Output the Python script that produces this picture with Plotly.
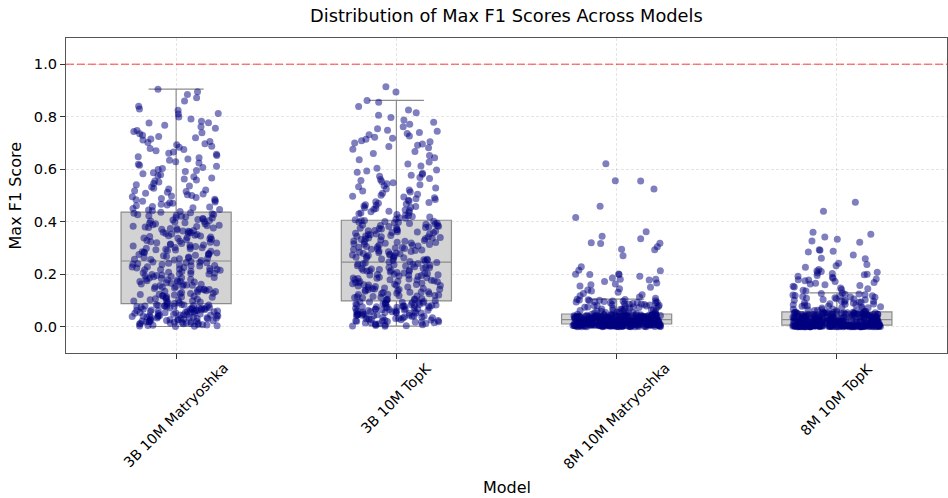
import numpy as np
import plotly.graph_objects as go

models = ["3B 10M Matryoshka", "3B 10M TopK", "8M 10M Matryoshka", "8M 10M TopK"]
y_ticks = [0.0, 0.2, 0.4, 0.6, 0.8, 1.0]
reference_line = 1.0

scores_3b_matryoshka = [
    0.003, 0.006, 0.008, 0.011, 0.012, 0.014, 0.017, 0.018, 0.021, 0.022,
    0.024, 0.026, 0.027, 0.029, 0.031, 0.032, 0.033, 0.035, 0.036, 0.038,
    0.039, 0.041, 0.042, 0.043, 0.045, 0.046, 0.048, 0.049, 0.051, 0.052,
    0.053, 0.054, 0.056, 0.057, 0.058, 0.059, 0.061, 0.062, 0.063, 0.064,
    0.066, 0.067, 0.068, 0.069, 0.071, 0.072, 0.073, 0.074, 0.075, 0.077,
    0.078, 0.079, 0.081, 0.082, 0.083, 0.084, 0.085, 0.086, 0.015, 0.019,
    0.005, 0.009, 0.013, 0.016, 0.023, 0.028, 0.034, 0.037, 0.044, 0.047,
    0.055, 0.060, 0.065, 0.070, 0.076, 0.080, 0.010, 0.020, 0.025, 0.030,
    0.040, 0.050, 0.001, 0.007, 0.004, 0.002, 0.035, 0.045, 0.058, 0.062,
    0.072, 0.078, 0.083, 0.012, 0.018, 0.027, 0.033, 0.041, 0.053, 0.067,
    0.089, 0.091, 0.094, 0.096, 0.098, 0.101, 0.103, 0.105, 0.108, 0.110,
    0.112, 0.114, 0.117, 0.119, 0.121, 0.123, 0.126, 0.128, 0.130, 0.132,
    0.134, 0.137, 0.139, 0.141, 0.143, 0.146, 0.148, 0.150, 0.152, 0.155,
    0.157, 0.159, 0.161, 0.163, 0.166, 0.168, 0.170, 0.172, 0.175, 0.177,
    0.179, 0.181, 0.184, 0.186, 0.188, 0.190, 0.193, 0.195, 0.197, 0.199,
    0.202, 0.204, 0.206, 0.208, 0.211, 0.213, 0.215, 0.217, 0.220, 0.222,
    0.224, 0.226, 0.229, 0.231, 0.233, 0.235, 0.238, 0.240, 0.242, 0.244,
    0.247, 0.249, 0.092, 0.107, 0.116, 0.124, 0.135, 0.144, 0.153, 0.162,
    0.171, 0.182, 0.191, 0.201, 0.210, 0.219, 0.228, 0.237, 0.246, 0.099,
    0.113, 0.127, 0.142, 0.158, 0.173, 0.187, 0.203, 0.218, 0.232, 0.245,
    0.252, 0.254, 0.257, 0.259, 0.261, 0.263, 0.266, 0.268, 0.270, 0.272,
    0.275, 0.277, 0.279, 0.281, 0.284, 0.286, 0.288, 0.290, 0.293, 0.295,
    0.297, 0.299, 0.302, 0.304, 0.306, 0.308, 0.311, 0.313, 0.315, 0.317,
    0.320, 0.322, 0.324, 0.326, 0.329, 0.331, 0.333, 0.335, 0.338, 0.340,
    0.342, 0.344, 0.347, 0.349, 0.351, 0.353, 0.356, 0.358, 0.360, 0.362,
    0.365, 0.367, 0.369, 0.371, 0.374, 0.376, 0.378, 0.380, 0.383, 0.385,
    0.387, 0.389, 0.392, 0.394, 0.396, 0.398, 0.401, 0.403, 0.405, 0.407,
    0.410, 0.412, 0.414, 0.416, 0.419, 0.421, 0.423, 0.425, 0.428, 0.430,
    0.432, 0.434, 0.436, 0.264, 0.283, 0.301, 0.319, 0.337, 0.355, 0.373,
    0.391, 0.409, 0.427, 0.256, 0.274, 0.292, 0.310, 0.346, 0.364, 0.382,
    0.439, 0.442, 0.445, 0.447, 0.450, 0.453, 0.456, 0.458, 0.461, 0.464,
    0.467, 0.470, 0.472, 0.475, 0.478, 0.481, 0.484, 0.486, 0.489, 0.492,
    0.495, 0.498, 0.500, 0.503, 0.506, 0.509, 0.512, 0.515, 0.518, 0.521,
    0.525, 0.528, 0.532, 0.536, 0.541, 0.546,
    0.551, 0.555, 0.559, 0.563, 0.567, 0.571, 0.575, 0.579, 0.583, 0.587,
    0.591, 0.595, 0.599, 0.603, 0.607, 0.611, 0.615, 0.619, 0.624, 0.629,
    0.634, 0.639, 0.644, 0.648,
    0.652, 0.657, 0.661, 0.666, 0.670, 0.675, 0.679, 0.684, 0.688, 0.693,
    0.697, 0.702, 0.706, 0.711, 0.715, 0.720, 0.725, 0.730, 0.735, 0.739,
    0.744, 0.748,
    0.756, 0.762, 0.768, 0.776, 0.777, 0.783, 0.791, 0.799, 0.810, 0.812,
    0.825, 0.830, 0.840, 0.860, 0.872, 0.885, 0.895, 0.905,
]

scores_3b_topk = [
    0.002, 0.005, 0.007, 0.009, 0.012, 0.014, 0.016, 0.018, 0.020, 0.022,
    0.024, 0.026, 0.028, 0.030, 0.031, 0.033, 0.035, 0.037, 0.039, 0.040,
    0.042, 0.044, 0.045, 0.047, 0.049, 0.050, 0.052, 0.054, 0.055, 0.057,
    0.058, 0.060, 0.062, 0.063, 0.065, 0.066, 0.068, 0.069, 0.071, 0.072,
    0.074, 0.075, 0.077, 0.078, 0.080, 0.081, 0.083, 0.084, 0.086, 0.087,
    0.089, 0.090, 0.092, 0.093, 0.095, 0.096, 0.004, 0.011, 0.017, 0.023,
    0.029, 0.036, 0.043, 0.048, 0.053, 0.059, 0.064, 0.070, 0.076, 0.082,
    0.088, 0.094, 0.003, 0.010, 0.015, 0.021, 0.027, 0.034, 0.041, 0.046,
    0.051, 0.056, 0.061, 0.067, 0.073, 0.079, 0.085, 0.091, 0.008, 0.019,
    0.025, 0.032, 0.038, 0.044, 0.052, 0.060, 0.068, 0.076, 0.084, 0.093,
    0.099, 0.101, 0.103, 0.105, 0.106, 0.108, 0.110, 0.112, 0.114, 0.115,
    0.117, 0.119, 0.121, 0.123, 0.124, 0.126, 0.128, 0.130, 0.132, 0.133,
    0.135, 0.137, 0.139, 0.141, 0.142, 0.144, 0.146, 0.148, 0.150, 0.151,
    0.153, 0.155, 0.157, 0.159, 0.160, 0.162, 0.164, 0.166, 0.168, 0.169,
    0.171, 0.173, 0.175, 0.177, 0.178, 0.180, 0.182, 0.184, 0.186, 0.187,
    0.189, 0.191, 0.193, 0.195, 0.196, 0.198, 0.200, 0.202, 0.204, 0.205,
    0.207, 0.209, 0.211, 0.213, 0.214, 0.216, 0.218, 0.220, 0.222, 0.223,
    0.225, 0.227, 0.229, 0.231, 0.232, 0.234, 0.236, 0.238, 0.240, 0.241,
    0.243, 0.245, 0.104, 0.118, 0.131, 0.145, 0.158, 0.172, 0.185, 0.199,
    0.212, 0.226, 0.239, 0.111, 0.127, 0.143, 0.161, 0.179, 0.197, 0.215,
    0.247, 0.249, 0.250, 0.252, 0.254, 0.255, 0.257, 0.258, 0.260, 0.262,
    0.263, 0.265, 0.266, 0.268, 0.270, 0.271, 0.273, 0.274, 0.276, 0.278,
    0.279, 0.281, 0.282, 0.284, 0.286, 0.287, 0.289, 0.290, 0.292, 0.294,
    0.295, 0.297, 0.298, 0.300, 0.302, 0.303, 0.305, 0.306, 0.308, 0.310,
    0.311, 0.313, 0.314, 0.316, 0.318, 0.319, 0.321, 0.322, 0.324, 0.326,
    0.327, 0.329, 0.330, 0.332, 0.334, 0.335, 0.337, 0.338, 0.340, 0.342,
    0.343, 0.345, 0.346, 0.348, 0.350, 0.351, 0.353, 0.354, 0.356, 0.358,
    0.359, 0.361, 0.362, 0.364, 0.366, 0.367, 0.369, 0.370, 0.372, 0.374,
    0.375, 0.377, 0.378, 0.380, 0.382, 0.383, 0.385, 0.386, 0.388, 0.390,
    0.391, 0.393, 0.394, 0.396, 0.398, 0.399, 0.401, 0.402, 0.404, 0.405,
    0.408, 0.410, 0.413, 0.415, 0.418, 0.420, 0.423, 0.425, 0.428, 0.430,
    0.433, 0.435, 0.438, 0.440, 0.443, 0.445, 0.448, 0.450, 0.453, 0.455,
    0.458, 0.460, 0.463, 0.465, 0.468, 0.470, 0.473, 0.476, 0.479, 0.482,
    0.485, 0.488, 0.491, 0.494, 0.497,
    0.501, 0.505, 0.509, 0.513, 0.517, 0.521, 0.525, 0.529, 0.533, 0.537,
    0.541, 0.545, 0.549, 0.553, 0.557, 0.561, 0.565, 0.569, 0.573, 0.577,
    0.581, 0.585, 0.589, 0.593, 0.597,
    0.604, 0.612, 0.620, 0.628, 0.636, 0.644, 0.652, 0.660, 0.668, 0.676,
    0.682, 0.687, 0.691, 0.696, 0.700, 0.705, 0.709, 0.714, 0.718, 0.722,
    0.727, 0.731, 0.736, 0.740, 0.745, 0.749, 0.754,
    0.762, 0.771, 0.779, 0.788, 0.797, 0.806, 0.815, 0.826, 0.839, 0.855,
    0.862, 0.894, 0.914,
]

scores_8m_matryoshka = [
    0.000, 0.000, 0.000, 0.000, 0.000, 0.000, 0.000, 0.000, 0.001, 0.001,
    0.001, 0.001, 0.001, 0.001, 0.002, 0.002, 0.002, 0.002, 0.002, 0.002,
    0.002, 0.003, 0.003, 0.003, 0.003, 0.003, 0.003, 0.003, 0.004, 0.004,
    0.004, 0.004, 0.004, 0.004, 0.004, 0.004, 0.005, 0.005, 0.005, 0.005,
    0.005, 0.005, 0.005, 0.005, 0.005, 0.006, 0.006, 0.006, 0.006, 0.006,
    0.006, 0.006, 0.006, 0.006, 0.006, 0.007, 0.007, 0.007, 0.007, 0.007,
    0.007, 0.007, 0.007, 0.007, 0.007, 0.008, 0.008, 0.008, 0.008, 0.008,
    0.008, 0.008, 0.008, 0.008, 0.008, 0.008, 0.009, 0.009, 0.009, 0.009,
    0.009, 0.009, 0.009, 0.009, 0.009, 0.009, 0.009, 0.009, 0.009, 0.009,
    0.001, 0.002, 0.003, 0.004, 0.005, 0.006, 0.007, 0.008, 0.009, 0.009,
    0.011, 0.011, 0.011, 0.011, 0.012, 0.012, 0.012, 0.012, 0.012, 0.012,
    0.013, 0.013, 0.013, 0.013, 0.013, 0.013, 0.014, 0.014, 0.014, 0.014,
    0.014, 0.014, 0.015, 0.015, 0.015, 0.015, 0.015, 0.015, 0.016, 0.016,
    0.016, 0.016, 0.016, 0.016, 0.017, 0.017, 0.017, 0.017, 0.017, 0.017,
    0.018, 0.018, 0.018, 0.018, 0.018, 0.018, 0.019, 0.019, 0.019, 0.019,
    0.019, 0.019, 0.020, 0.020, 0.020, 0.020, 0.020, 0.020, 0.021, 0.021,
    0.021, 0.021, 0.021, 0.021, 0.022, 0.022, 0.022, 0.022, 0.022, 0.022,
    0.023, 0.023, 0.023, 0.023, 0.023, 0.023, 0.024, 0.024, 0.024, 0.024,
    0.024, 0.024, 0.025, 0.025, 0.025, 0.025, 0.025, 0.025, 0.026, 0.026,
    0.026, 0.026, 0.026, 0.026, 0.026, 0.026, 0.026, 0.026, 0.026, 0.026,
    0.028, 0.028, 0.028, 0.028, 0.028, 0.029, 0.029, 0.029, 0.029, 0.029,
    0.030, 0.030, 0.030, 0.030, 0.030, 0.031, 0.031, 0.031, 0.031, 0.031,
    0.032, 0.032, 0.032, 0.032, 0.032, 0.033, 0.033, 0.033, 0.033, 0.033,
    0.034, 0.034, 0.034, 0.034, 0.034, 0.035, 0.035, 0.035, 0.035, 0.035,
    0.036, 0.036, 0.036, 0.036, 0.036, 0.037, 0.037, 0.037, 0.037, 0.037,
    0.038, 0.038, 0.038, 0.038, 0.038, 0.039, 0.039, 0.039, 0.039, 0.039,
    0.040, 0.040, 0.040, 0.040, 0.040, 0.041, 0.041, 0.041, 0.041, 0.041,
    0.042, 0.042, 0.042, 0.042, 0.042, 0.043, 0.043, 0.043, 0.043, 0.043,
    0.044, 0.044, 0.044, 0.044, 0.044, 0.045, 0.045, 0.045, 0.045, 0.045,
    0.046, 0.046, 0.046, 0.046, 0.047, 0.047, 0.047, 0.048, 0.048, 0.048,
    0.050, 0.051, 0.052, 0.053, 0.053, 0.054, 0.055, 0.056, 0.057, 0.058,
    0.059, 0.060, 0.061, 0.062, 0.063, 0.064, 0.065, 0.066, 0.067, 0.068,
    0.069, 0.070, 0.071, 0.072, 0.073, 0.074, 0.075, 0.076, 0.077, 0.078,
    0.079, 0.080, 0.081, 0.082, 0.083, 0.084, 0.085, 0.086, 0.087, 0.088,
    0.089, 0.090, 0.091, 0.092, 0.093, 0.094, 0.095, 0.096, 0.097, 0.098,
    0.099, 0.100, 0.101, 0.102, 0.103, 0.104, 0.105,
    0.109, 0.113, 0.118, 0.122, 0.127, 0.131, 0.136, 0.140, 0.145, 0.150,
    0.155, 0.160, 0.163, 0.167, 0.172, 0.178, 0.181, 0.186, 0.192, 0.199,
    0.199, 0.200, 0.201, 0.213, 0.215, 0.229, 0.270, 0.293, 0.295, 0.305,
    0.317, 0.318, 0.320, 0.335, 0.345, 0.362, 0.416, 0.459, 0.525, 0.555,
    0.556, 0.621, 0.181,
]

scores_8m_topk = [
    0.000, 0.000, 0.000, 0.000, 0.000, 0.000, 0.000, 0.000, 0.000, 0.000,
    0.000, 0.000, 0.000, 0.000, 0.000, 0.000, 0.000, 0.000, 0.000, 0.000,
    0.001, 0.001, 0.001, 0.001, 0.001, 0.001, 0.001, 0.001, 0.001, 0.001,
    0.001, 0.001, 0.001, 0.001, 0.001, 0.001, 0.002, 0.002, 0.002, 0.002,
    0.002, 0.002, 0.002, 0.002, 0.002, 0.002, 0.002, 0.002, 0.002, 0.002,
    0.002, 0.002, 0.003, 0.003, 0.003, 0.003, 0.003, 0.003, 0.003, 0.003,
    0.003, 0.003, 0.003, 0.003, 0.003, 0.003, 0.003, 0.003, 0.004, 0.004,
    0.004, 0.004, 0.004, 0.004, 0.004, 0.004, 0.004, 0.004, 0.004, 0.004,
    0.004, 0.004, 0.004, 0.004, 0.005, 0.005, 0.005, 0.005, 0.005, 0.005,
    0.005, 0.005, 0.005, 0.005, 0.005, 0.005, 0.005, 0.005, 0.005, 0.005,
    0.007, 0.007, 0.007, 0.007, 0.007, 0.008, 0.008, 0.008, 0.008, 0.008,
    0.009, 0.009, 0.009, 0.009, 0.009, 0.010, 0.010, 0.010, 0.010, 0.010,
    0.011, 0.011, 0.011, 0.011, 0.011, 0.012, 0.012, 0.012, 0.012, 0.012,
    0.013, 0.013, 0.013, 0.013, 0.013, 0.014, 0.014, 0.014, 0.014, 0.014,
    0.015, 0.015, 0.015, 0.015, 0.015, 0.016, 0.016, 0.016, 0.016, 0.016,
    0.017, 0.017, 0.017, 0.017, 0.017, 0.018, 0.018, 0.018, 0.018, 0.018,
    0.019, 0.019, 0.019, 0.019, 0.019, 0.020, 0.020, 0.020, 0.020, 0.020,
    0.021, 0.021, 0.021, 0.021, 0.021, 0.022, 0.022, 0.022, 0.022, 0.022,
    0.023, 0.023, 0.023, 0.023, 0.023, 0.024, 0.024, 0.024, 0.024, 0.024,
    0.025, 0.025, 0.025, 0.025, 0.025, 0.026, 0.026, 0.026, 0.026, 0.026,
    0.028, 0.028, 0.028, 0.028, 0.029, 0.029, 0.029, 0.030, 0.030, 0.030,
    0.030, 0.031, 0.031, 0.031, 0.032, 0.032, 0.032, 0.032, 0.033, 0.033,
    0.033, 0.034, 0.034, 0.034, 0.034, 0.035, 0.035, 0.035, 0.036, 0.036,
    0.036, 0.036, 0.037, 0.037, 0.037, 0.038, 0.038, 0.038, 0.038, 0.039,
    0.039, 0.039, 0.040, 0.040, 0.040, 0.040, 0.041, 0.041, 0.041, 0.042,
    0.042, 0.042, 0.042, 0.043, 0.043, 0.043, 0.044, 0.044, 0.044, 0.044,
    0.045, 0.045, 0.045, 0.046, 0.046, 0.046, 0.046, 0.047, 0.047, 0.047,
    0.048, 0.048, 0.048, 0.048, 0.049, 0.049, 0.049, 0.050, 0.050, 0.050,
    0.050, 0.051, 0.051, 0.051, 0.052, 0.052, 0.052, 0.052, 0.053, 0.053,
    0.053, 0.054, 0.054, 0.054, 0.055, 0.055, 0.055, 0.056, 0.056, 0.056,
    0.058, 0.059, 0.060, 0.061, 0.062, 0.063, 0.065, 0.066, 0.067, 0.068,
    0.070, 0.071, 0.072, 0.074, 0.075, 0.076, 0.078, 0.079, 0.080, 0.082,
    0.083, 0.084, 0.086, 0.087, 0.088, 0.090, 0.091, 0.093, 0.094, 0.095,
    0.097, 0.098, 0.100, 0.101, 0.103, 0.104, 0.106, 0.107, 0.109, 0.110,
    0.112, 0.113, 0.115, 0.116, 0.118, 0.119, 0.121, 0.122, 0.124, 0.125,
    0.127, 0.129,
    0.136, 0.139, 0.142, 0.145, 0.148, 0.151, 0.154, 0.157, 0.160, 0.163,
    0.166, 0.169, 0.172, 0.175, 0.178, 0.179, 0.182, 0.185, 0.189, 0.192,
    0.195, 0.198,
    0.200, 0.203, 0.205, 0.208, 0.210, 0.212, 0.227, 0.232, 0.237, 0.242,
    0.259, 0.261, 0.273, 0.285, 0.288, 0.291, 0.293, 0.322, 0.327, 0.333,
    0.342, 0.352, 0.360, 0.440, 0.474, 0.218,
]

all_scores = [scores_3b_matryoshka, scores_3b_topk, scores_8m_matryoshka, scores_8m_topk]

# Box statistics computed from the data (Tukey whiskers, 1.5 IQR)
q1s, meds, q3s, los, his = [], [], [], [], []
for vals in all_scores:
    a = np.asarray(vals, dtype=float)
    q1, med, q3 = np.percentile(a, [25, 50, 75])
    iqr = q3 - q1
    q1s.append(q1); meds.append(med); q3s.append(q3)
    los.append(a[a >= q1 - 1.5 * iqr].min())
    his.append(a[a <= q3 + 1.5 * iqr].max())

positions = list(range(len(models)))

fig = go.Figure()
fig.add_trace(go.Box(
    x=positions, q1=q1s, median=meds, q3=q3s, lowerfence=los, upperfence=his,
    width=0.5, whiskerwidth=0.5, boxpoints=False,
    fillcolor="#d3d3d3", line=dict(color="#8c8c8c", width=1.2),
    showlegend=False, hoverinfo="skip",
))

# Stripplot-style jitter (horizontal position only)
rng = np.random.default_rng(3)
for i, vals in enumerate(all_scores):
    offs = rng.uniform(-0.2, 0.2, len(vals))
    fig.add_trace(go.Scatter(
        x=i + offs, y=vals, mode="markers",
        marker=dict(color="#000080", size=7, opacity=0.5, line=dict(width=0)),
        showlegend=False, hoverinfo="skip",
    ))

fig.add_shape(type="line", xref="paper", x0=0, x1=1, yref="y",
              y0=reference_line, y1=reference_line,
              line=dict(color="rgba(255,0,0,0.5)", width=1.5, dash="8px,3px"))

font_family = "DejaVu Sans"
annotations = [
    dict(text="Distribution of Max F1 Scores Across Models", xref="paper", yref="paper",
         x=0.5, y=1.073, xanchor="center", yanchor="middle", showarrow=False,
         font=dict(size=17.8, color="#000", family=font_family)),
    dict(text="Model", xref="paper", yref="paper", x=0.5, y=-0.427,
         xanchor="center", yanchor="middle", showarrow=False,
         font=dict(size=16, color="#000", family=font_family)),
    dict(text="Max F1 Score", xref="paper", yref="paper", x=-0.0568, y=0.5,
         xanchor="center", yanchor="middle", textangle=-90, showarrow=False,
         font=dict(size=16, color="#000", family=font_family)),
]
for i, name in enumerate(models):
    annotations.append(dict(
        text=name, xref="x", yref="paper", x=i, y=-0.013,
        xanchor="center", yanchor="top", textangle=-45, showarrow=False,
        font=dict(size=14.2, color="#000", family=font_family)))

grid_color = "rgba(0,0,0,0.10)"
fig.update_layout(
    width=948, height=498,
    margin=dict(l=66, r=1, t=38, b=145),
    plot_bgcolor="white", paper_bgcolor="white",
    font=dict(family=font_family, size=14, color="#000"),
    annotations=annotations,
    xaxis=dict(range=[-0.5, 3.5], tickvals=positions, showticklabels=False,
               ticks="outside", ticklen=5, tickcolor="#333",
               showgrid=True, gridcolor=grid_color, griddash="3px,2px",
               showline=True, linecolor="#555", linewidth=1, mirror=True,
               zeroline=False),
    yaxis=dict(range=[-0.1, 1.1], tickvals=y_ticks, tickformat=".1f",
               ticks="outside", ticklen=5, tickcolor="#333",
               tickfont=dict(size=14.6, family=font_family),
               showgrid=True, gridcolor=grid_color, griddash="3px,2px",
               showline=True, linecolor="#555", linewidth=1, mirror=True,
               zeroline=False),
)

fig.write_html("out.html")
